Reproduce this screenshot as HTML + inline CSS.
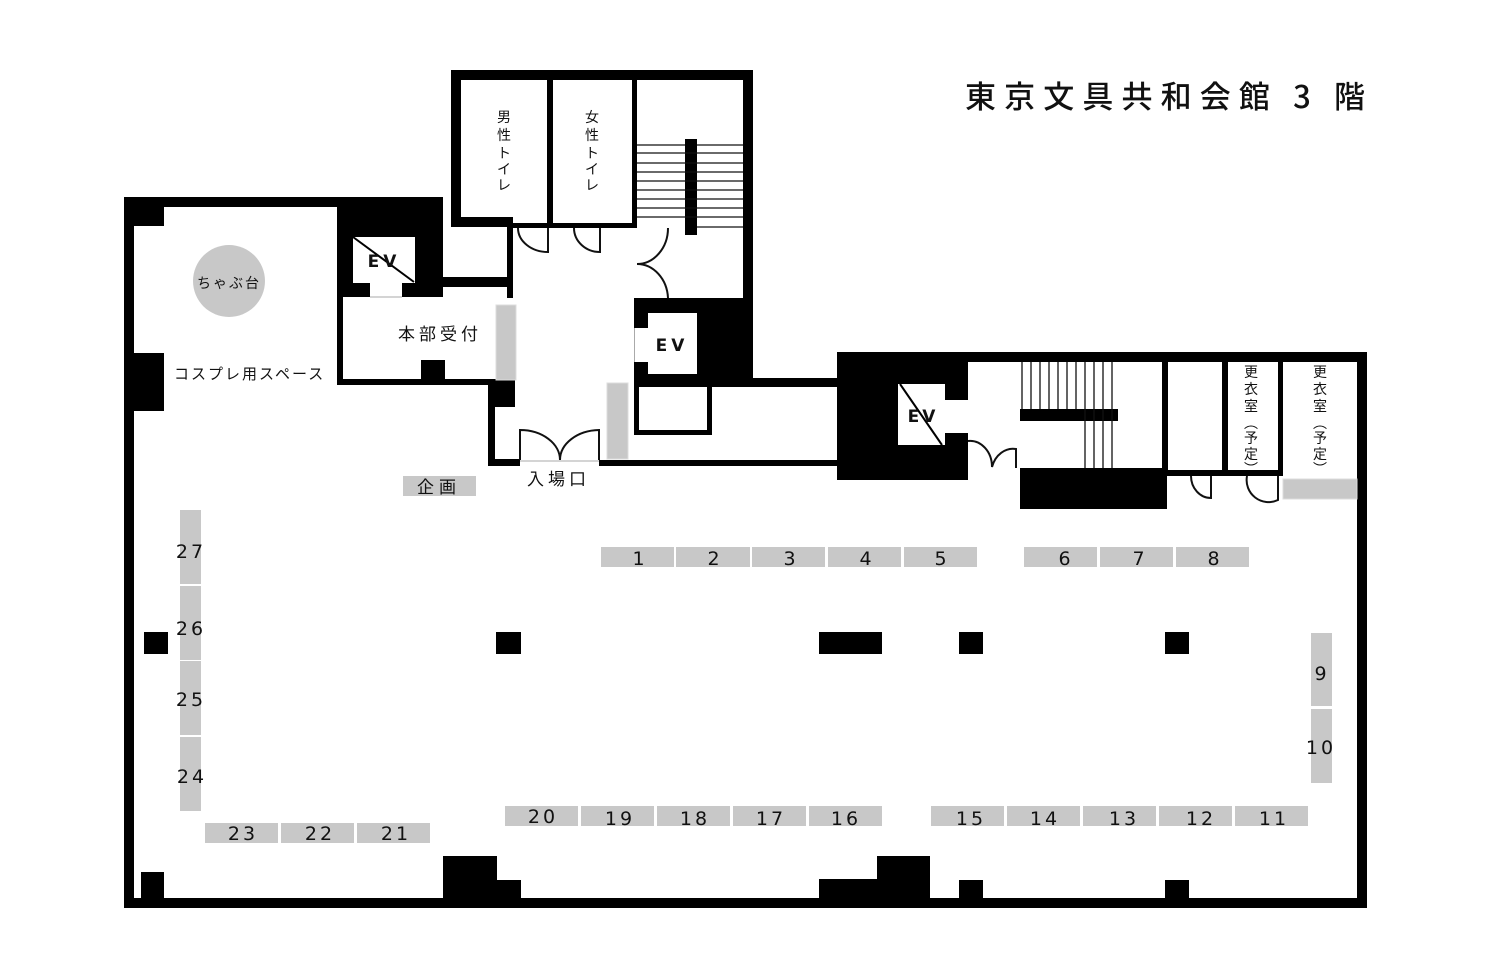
<!DOCTYPE html>
<html><head><meta charset="utf-8"><style>
html,body{margin:0;padding:0;background:#fff;}
svg{display:block;}
text{font-family:"DejaVu Sans","Noto Sans CJK JP",sans-serif;fill:#111;}
.n{font-size:19px;letter-spacing:3px;text-anchor:middle;}
.g{fill:#c8c8c8;}
.t{stroke:#111;stroke-width:2;fill:none;}
</style></head><body>
<svg width="1488" height="977" viewBox="0 0 1488 977" xmlns="http://www.w3.org/2000/svg">
<text x="965" y="108" style="font-size:31px;font-weight:500;font-family:'Noto Sans CJK JP',sans-serif;" textLength="400" lengthAdjust="spacing">東京文具共和会館 3 階</text>
<g fill="#000">
<rect x="124" y="197" width="10" height="711"/>
<rect x="124" y="898" width="1243" height="10"/>
<rect x="1357" y="352" width="10" height="556"/>
<rect x="837" y="352" width="530" height="10"/>
<rect x="124" y="197" width="219" height="10"/>
<rect x="124" y="197" width="40" height="29"/>
<rect x="124" y="353" width="40" height="58"/>
<rect x="337" y="197" width="106" height="100"/>
<rect x="337" y="290" width="6" height="95"/>
<rect x="337" y="379" width="178" height="6"/>
<rect x="421" y="360" width="24" height="25"/>
<rect x="443" y="277" width="68" height="10"/>
<rect x="507" y="218" width="6" height="80"/>
<rect x="451" y="70" width="302" height="10"/>
<rect x="451" y="70" width="10" height="157"/>
<rect x="451" y="217" width="62" height="10"/>
<rect x="512" y="223" width="125" height="5"/>
<rect x="547" y="80" width="6" height="146"/>
<rect x="632" y="80" width="5" height="146"/>
<rect x="743" y="70" width="10" height="315"/>
<rect x="685" y="139" width="12" height="96"/>
<rect x="634" y="298" width="119" height="89"/>
<rect x="753" y="378" width="84" height="9"/>
<rect x="634" y="385" width="5" height="50"/>
<rect x="707" y="385" width="5" height="50"/>
<rect x="634" y="430" width="78" height="5"/>
<rect x="488" y="385" width="27" height="22"/>
<rect x="488" y="385" width="7" height="81"/>
<rect x="488" y="459" width="32" height="7"/>
<rect x="599" y="460" width="238" height="6"/>
<rect x="837" y="352" width="131" height="128"/>
<rect x="1020" y="409" width="98" height="12"/>
<rect x="1020" y="468" width="147" height="41"/>
<rect x="1162" y="362" width="6" height="114"/>
<rect x="1162" y="470" width="121" height="6"/>
<rect x="1222" y="362" width="6" height="114"/>
<rect x="1278" y="362" width="5" height="114"/>
<rect x="144" y="632" width="24" height="22"/>
<rect x="496" y="632" width="25" height="22"/>
<rect x="819" y="632" width="63" height="22"/>
<rect x="959" y="632" width="24" height="22"/>
<rect x="1165" y="632" width="24" height="22"/>
<rect x="141" y="872" width="23" height="28"/>
<rect x="443" y="856" width="54" height="44"/>
<rect x="497" y="880" width="24" height="20"/>
<rect x="819" y="879" width="60" height="21"/>
<rect x="877" y="856" width="53" height="44"/>
<rect x="959" y="880" width="24" height="20"/>
<rect x="1165" y="880" width="24" height="20"/>
</g>
<rect x="353" y="237" width="62" height="46" fill="#fff"/>
<rect x="370" y="280" width="32" height="17" fill="#fff"/>
<line x1="370" y1="297" x2="402" y2="297" stroke="#aaa" stroke-width="1"/>
<line x1="353" y1="237" x2="414" y2="282" stroke="#000" stroke-width="2"/>
<text x="384" y="267" style="font-size:17px;font-weight:bold;letter-spacing:4px" text-anchor="middle">EV</text>
<rect x="648" y="313" width="49" height="61" fill="#fff"/>
<rect x="634" y="328" width="16" height="34" fill="#fff"/>
<line x1="634.5" y1="328" x2="634.5" y2="362" stroke="#aaa"/>
<text x="672" y="351" style="font-size:17px;font-weight:bold;letter-spacing:4px" text-anchor="middle">EV</text>
<rect x="898" y="384" width="47" height="61" fill="#fff"/>
<rect x="943" y="400" width="25" height="33" fill="#fff"/>
<line x1="900" y1="384" x2="942" y2="445" stroke="#000" stroke-width="2"/>
<text x="923" y="422" style="font-size:17px;font-weight:bold;letter-spacing:3px" text-anchor="middle">EV</text>
<g stroke="#111" stroke-width="1.3">
<line x1="637" y1="145" x2="685" y2="145"/><line x1="637" y1="153" x2="743" y2="153"/>
<line x1="637" y1="163" x2="743" y2="163"/><line x1="637" y1="172" x2="743" y2="172"/>
<line x1="637" y1="181" x2="743" y2="181"/><line x1="637" y1="190" x2="743" y2="190"/>
<line x1="637" y1="199" x2="743" y2="199"/><line x1="637" y1="208" x2="743" y2="208"/>
<line x1="637" y1="217" x2="743" y2="217"/><line x1="697" y1="145" x2="743" y2="145"/>
<line x1="697" y1="227" x2="743" y2="227"/>
<line x1="1022" y1="362" x2="1022" y2="409"/><line x1="1031" y1="362" x2="1031" y2="409"/>
<line x1="1040" y1="362" x2="1040" y2="409"/><line x1="1049" y1="362" x2="1049" y2="409"/>
<line x1="1058" y1="362" x2="1058" y2="409"/><line x1="1067" y1="362" x2="1067" y2="409"/>
<line x1="1076" y1="362" x2="1076" y2="409"/><line x1="1085" y1="362" x2="1085" y2="468"/>
<line x1="1094" y1="362" x2="1094" y2="468"/><line x1="1103" y1="362" x2="1103" y2="468"/>
<line x1="1112" y1="362" x2="1112" y2="468"/>
</g>
<path class="t" d="M518,228 A30,24 0 0 0 548,252 L548,228"/>
<path class="t" d="M574,228 A26,24 0 0 0 600,252 L600,228"/>
<path class="t" d="M668,228 A31,36 0 0 1 637,264 A31,36 0 0 1 668,298"/>
<path class="t" d="M520,460 L520,430 A40,30 0 0 1 560,460 A40,30 0 0 1 599,430 L599,460"/>
<line x1="520" y1="461" x2="599" y2="461" stroke="#aaa"/>
<path class="t" d="M968,441 A22,26 0 0 1 992,467 A22,26 0 0 1 1016,449 L1016,468"/>
<path class="t" d="M1191,476 A20,22 0 0 0 1211,498 L1211,476"/>
<path class="t" d="M1247,476 A22,22 0 0 0 1278,500 L1278,476"/>
<rect class="g" x="496" y="305" width="20" height="75" stroke="#ddd"/>
<rect class="g" x="607" y="383" width="21" height="76" stroke="#ddd"/>
<rect class="g" x="1283" y="479" width="74" height="20" stroke="#ddd"/>
<circle class="g" cx="229" cy="281" r="36"/>
<text x="229" y="288" style="font-size:14px;letter-spacing:2px" text-anchor="middle">ちゃぶ台</text>
<text x="174" y="379" style="font-size:15px;letter-spacing:2px">コスプレ用スペース</text>
<text x="398" y="340" style="font-size:17px;letter-spacing:4px">本部受付</text>
<text x="527" y="485" style="font-size:17px;letter-spacing:4px">入場口</text>
<rect class="g" x="403" y="476" width="73" height="20"/>
<text x="439" y="493" style="font-size:17px;letter-spacing:5px" text-anchor="middle">企画</text>
<g style="font-size:14px" text-anchor="middle">
<text x="504" y="122">男</text><text x="504" y="140">性</text><text x="504" y="158">ト</text><text x="504" y="174">イ</text><text x="504" y="190">レ</text>
<text x="592" y="122">女</text><text x="592" y="140">性</text><text x="592" y="158">ト</text><text x="592" y="174">イ</text><text x="592" y="190">レ</text>
<text x="1251" y="377">更</text><text x="1251" y="394">衣</text><text x="1251" y="411">室</text><text x="1251" y="428">︵</text><text x="1251" y="443">予</text><text x="1251" y="459">定</text><text x="1251" y="474">︶</text>
<text x="1320" y="377">更</text><text x="1320" y="394">衣</text><text x="1320" y="411">室</text><text x="1320" y="428">︵</text><text x="1320" y="443">予</text><text x="1320" y="459">定</text><text x="1320" y="474">︶</text>
</g>
<g class="g">
<rect x="601" y="547" width="73" height="20"/><rect x="676" y="547" width="74" height="20"/><rect x="752" y="547" width="73" height="20"/><rect x="828" y="547" width="73" height="20"/><rect x="904" y="547" width="73" height="20"/>
<rect x="1024" y="547" width="73" height="20"/><rect x="1100" y="547" width="73" height="20"/><rect x="1176" y="547" width="73" height="20"/>
<rect x="505" y="806" width="73" height="20"/><rect x="581" y="806" width="73" height="20"/><rect x="657" y="806" width="73" height="20"/><rect x="733" y="806" width="73" height="20"/><rect x="809" y="806" width="73" height="20"/>
<rect x="931" y="806" width="73" height="20"/><rect x="1007" y="806" width="73" height="20"/><rect x="1083" y="806" width="73" height="20"/><rect x="1159" y="806" width="73" height="20"/><rect x="1235" y="806" width="73" height="20"/>
<rect x="205" y="823" width="73" height="20"/><rect x="281" y="823" width="73" height="20"/><rect x="357" y="823" width="73" height="20"/>
<rect x="180" y="510" width="21" height="74"/><rect x="180" y="586" width="21" height="74"/><rect x="180" y="661" width="21" height="74"/><rect x="180" y="737" width="21" height="74"/>
<rect x="1311" y="633" width="21" height="73"/><rect x="1311" y="709" width="21" height="74"/>
</g>
<g class="n">
<text x="640" y="565">1</text><text x="715" y="565">2</text><text x="791" y="565">3</text><text x="867" y="565">4</text><text x="942" y="565">5</text>
<text x="1066" y="565">6</text><text x="1140" y="565">7</text><text x="1215" y="565">8</text>
<text x="1322" y="680">9</text><text x="1321" y="754">10</text>
<text x="1274" y="825">11</text><text x="1201" y="825">12</text><text x="1124" y="825">13</text><text x="1045" y="825">14</text><text x="971" y="825">15</text>
<text x="846" y="825">16</text><text x="771" y="825">17</text><text x="695" y="825">18</text><text x="620" y="825">19</text><text x="543" y="823">20</text>
<text x="396" y="840">21</text><text x="320" y="840">22</text><text x="243" y="840">23</text>
<text x="192" y="783">24</text><text x="191" y="706">25</text><text x="191" y="635">26</text><text x="191" y="558">27</text>
</g>
</svg>
</body></html>
